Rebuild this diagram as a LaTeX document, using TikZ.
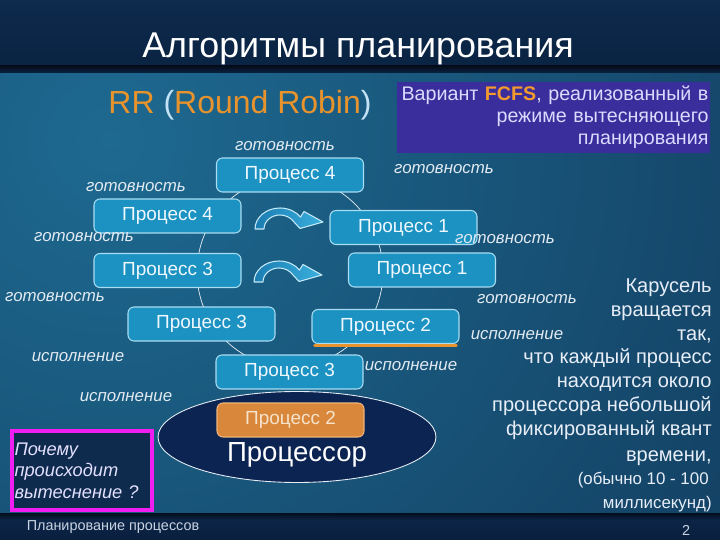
\documentclass[tikz,border=0pt]{standalone}
\usepackage{fontspec}
\setmainfont{Liberation Sans}
\usetikzlibrary{shapes.geometric}
\definecolor{bgtopA}{HTML}{0E2A4C}
\definecolor{bgtopB}{HTML}{0A2343}
\definecolor{sepline}{HTML}{040D1C}
\definecolor{bglight}{HTML}{1E6990}
\definecolor{bgdark}{HTML}{0C2848}
\definecolor{botbandA}{HTML}{0C2446}
\definecolor{botbandB}{HTML}{0A1F3E}
\definecolor{boxfill}{HTML}{1B92C2}
\definecolor{boxedge}{HTML}{A9DDF2}
\definecolor{boxtext}{HTML}{F0F8FF}
\definecolor{orfill}{HTML}{D9873B}
\definecolor{oredge}{HTML}{F2B57A}
\definecolor{ortext}{HTML}{F6E3CC}
\definecolor{fcfsfill}{HTML}{3A2E9C}
\definecolor{fcfstext}{HTML}{DCDAFF}
\definecolor{fcfsorange}{HTML}{F29A2E}
\definecolor{rrorange}{HTML}{E9932C}
\definecolor{parencol}{HTML}{C4E2F6}
\definecolor{labelcol}{HTML}{E2EAF2}
\definecolor{cpufill}{HTML}{0B2452}
\definecolor{cpuedge}{HTML}{E6ECF4}
\definecolor{whyedge}{HTML}{F01EF0}
\definecolor{whyfill}{HTML}{0E2A4C}
\definecolor{whytext}{HTML}{E4E0FF}
\definecolor{arrfillA}{HTML}{1B7DB2}
\definecolor{arrfillB}{HTML}{3AB0DE}
\definecolor{arredge}{HTML}{C6EAF8}
\definecolor{righttext}{HTML}{E8EEF8}
\definecolor{foot}{HTML}{C8D4E2}
\tikzset{
  proc/.style={draw=boxedge, fill=boxfill, rounded corners=3.4pt, line width=0.6pt,
    minimum width=2.94cm, minimum height=0.68cm, inner sep=0pt, text=boxtext,
    font=\fontsize{10.8}{13}\selectfont},
  procor/.style={proc, draw=oredge, fill=orfill, text=ortext},
  lbl/.style={text=labelcol, inner sep=0pt, font=\fontsize{9.6}{11}\selectfont\itshape},
  ring/.style={draw=cpuedge!80, line width=0.4pt, ellipse, inner sep=0pt},
  blockarrow/.style={draw=arredge, left color=arrfillA, right color=arrfillB, line width=0.6pt, line join=round},
  rtext/.style={text=righttext, inner sep=0pt, anchor=base east, font=\fontsize{11.4}{13}\selectfont},
  rsmall/.style={rtext, font=\fontsize{9.6}{12}\selectfont},
}
\begin{document}
\begin{tikzpicture}[x=0.02cm,y=-0.02cm]
\useasboundingbox (0,0) rectangle (720,540);
% background
\shade[top color=bgtopA, bottom color=bgtopB] (0,0) rectangle (720,68);
\fill[bgdark] (0,68) rectangle (720,516);
\begin{scope}
  \clip (0,72) rectangle (720,514);
  \shade[inner color=bglight, outer color=bgdark] (110,140) circle[radius=1200];
\end{scope}
\shade[top color=sepline, bottom color=bgtopB] (0,66) rectangle (720,73);
\shade[top color=sepline, bottom color=botbandA] (0,513) rectangle (720,520);
\shade[top color=botbandA, bottom color=botbandB] (0,520) rectangle (720,540);

% title
\node[text=white, inner sep=0pt, font=\fontsize{20.4}{24}\selectfont] (title) at (358,49) {Алгоритмы планирования};
\node[inner sep=0pt, font=\fontsize{18.2}{22}\selectfont] (rr) at (240,105)
  {\textcolor{rrorange}{RR} \textcolor{parencol}{(}\textcolor{rrorange}{Round Robin}\textcolor{parencol}{)}};
\node[fill=fcfsfill, text=fcfstext, text width=6.2cm, align=right, inner sep=0.03cm,
  minimum height=1.42cm, font=\fontsize{11.2}{12.5}\selectfont] (fcfs) at (553.5,117.5)
  {Вариант \textcolor{fcfsorange}{\textbf{FCFS}}, реализованный в\\режиме вытесняющего\\планирования};

% carousel ring
\node[ring, minimum width=3.72cm, minimum height=3.8cm] (carousel) at (290,272) {};
% processor
\node[draw=cpuedge, fill=cpufill, line width=0.5pt, ellipse, inner sep=0pt,
  minimum width=5.56cm, minimum height=1.82cm] (cpu) at (297,437) {};
\node[text=white, inner sep=0pt, font=\fontsize{15.7}{18}\selectfont] (cpulabel) at (297,455) {Процессор};

% process boxes
\node[proc] (p4t) at (290,175) {Процесс 4};
\node[proc] (p4l) at (167.5,216) {Процесс 4};
\node[proc] (p1u) at (403.5,227.5) {Процесс 1};
\node[proc] (p3l) at (167.5,270.5) {Процесс 3};
\node[proc] (p1l) at (422,270) {Процесс 1};
\node[proc] (p3m) at (201.5,324) {Процесс 3};
\node[proc] (p2r) at (385.5,326.5) {Процесс 2};
\draw[draw=rrorange, line width=1.4pt, line cap=round] ([shift={(3,1.5)}]p2r.south west) -- ([shift={(-3,1.5)}]p2r.south east);
\node[proc] (p3b) at (289.5,372) {Процесс 3};
\node[procor] (p2o) at (290.5,420) {Процесс 2};

% block arrows (curved, pointing right)
\foreach \dx/\dy in {280/229,279/282}{
  \draw[blockarrow, shift={(\dx,\dy)}]
    (-25,0) .. controls (-25,-11.6) and (-13.8,-21) .. (0,-21)
            .. controls (8.2,-21) and (15.8,-17.6) .. (20.5,-12)
    -- (24,-17.5) -- (43,-7) -- (20,-0.5) -- (13.1,-8)
            .. controls (10.1,-11.7) and (5.2,-14) .. (0,-14)
            .. controls (-8.8,-14) and (-16,-7.7) .. (-16,0)
    -- cycle;
}

% state labels
\node[lbl] (g1) at (285,146) {готовность};
\node[lbl] (g2) at (136,187) {готовность};
\node[lbl] (g3) at (444,169) {готовность};
\node[lbl] (g4) at (84,237) {готовность};
\node[lbl] (g5) at (505,239) {готовность};
\node[lbl] (g6) at (55,297) {готовность};
\node[lbl] (g7) at (527,299) {готовность};
\node[lbl] (e1) at (78,357) {исполнение};
\node[lbl] (e2) at (517,335) {исполнение};
\node[lbl] (e3) at (411,366) {исполнение};
\node[lbl] (e4) at (126,397) {исполнение};

% question box
\node[draw=whyedge, fill=whyfill, line width=2.3pt, minimum width=2.8cm, minimum height=1.58cm,
  text width=2.7cm, align=left, inner sep=0pt, text=whytext,
  font=\fontsize{10.4}{12.2}\selectfont\itshape] (why) at (82,470.5)
  {Почему\\происходит\\вытеснение~?};

% right explanation
\node[rtext] (r1) at (712,293) {Карусель};
\node[rtext] (r2) at (712,317) {вращается};
\node[rtext] (r3) at (712,341) {так,};
\node[rtext] (r4) at (712,364) {что каждый процесс};
\node[rtext] (r5) at (712,388) {находится около};
\node[rtext] (r6) at (712,412) {процессора небольшой};
\node[rtext] (r7) at (712,436) {фиксированный квант};
\node[rtext] (r8) at (712,461) {времени,};
\node[rsmall] (r9) at (709,484) {(обычно 10 - 100};
\node[rsmall] (r10) at (712,508) {миллисекунд)};

% footer
\node[text=foot, inner sep=0pt, font=\fontsize{8.2}{10}\selectfont] (footl) at (113,527) {Планирование процессов};
\node[text=foot, inner sep=0pt, font=\fontsize{8.2}{10}\selectfont] (footr) at (686,530) {2};
\end{tikzpicture}
\end{document}
